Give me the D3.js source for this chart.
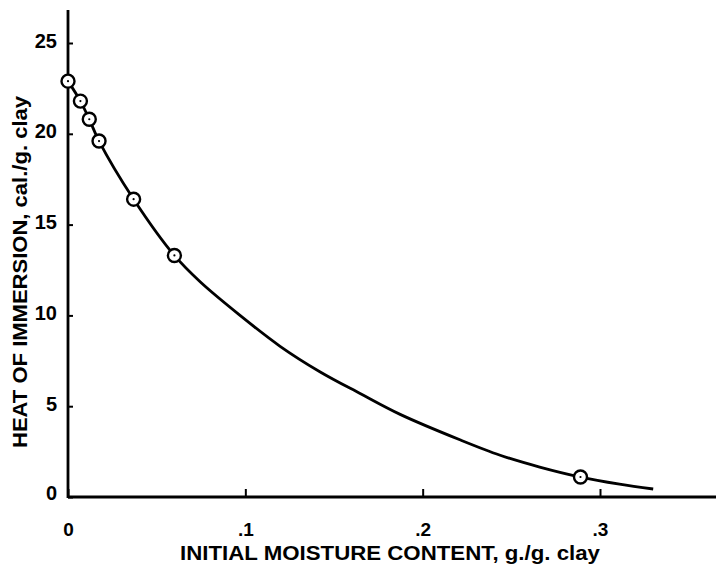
<!DOCTYPE html>
<html>
<head>
<meta charset="utf-8">
<script src="https://cdn.jsdelivr.net/npm/d3@7"></script>
<style>
  body { margin: 0; background: #fff; }
  svg { display: block; }
  text { font-family: "Liberation Sans", Arial, sans-serif; font-weight: bold; fill: #000; }
</style>
</head>
<body>
<svg width="716" height="570"></svg>
<script>
// measured points (moisture g/g clay, heat cal/g clay)
var pointX = [0, 0.007, 0.012, 0.0175, 0.037, 0.060, 0.289]
var pointY = [22.9, 21.8, 20.8, 19.6, 16.4, 13.3, 1.1]

// smooth curve
var curveX = [0, 0.007, 0.012, 0.0175, 0.037, 0.060, 0.0745, 0.097, 0.1196, 0.142, 0.1647, 0.1873, 0.221, 0.2437, 0.266, 0.289, 0.311, 0.330]
var curveY = [22.9, 21.8, 20.8, 19.6, 16.4, 13.3, 11.85, 10.0, 8.3, 6.9, 5.7, 4.55, 3.15, 2.3, 1.65, 1.10, 0.71, 0.44]

var xTicks = [0, 0.1, 0.2, 0.3]
var xTickLabels = ['0', '.1', '.2', '.3']
var yTicks = [0, 5, 10, 15, 20, 25]

var svg = d3.select('svg'),
    width = +svg.attr('width'),
    height = +svg.attr('height')

var x = d3.scaleLinear().domain([0, 0.3]).range([68, 600])
var y = d3.scaleLinear().domain([0, 25]).range([497, 43])

var g = svg.append('g')

// axis lines
g.append('line')
    .attr('x1', x(0)).attr('x2', width)
    .attr('y1', y(0)).attr('y2', y(0))
    .attr('stroke', '#000').attr('stroke-width', 2.8)
g.append('line')
    .attr('x1', x(0)).attr('x2', x(0))
    .attr('y1', y(0) + 1).attr('y2', 10)
    .attr('stroke', '#000').attr('stroke-width', 2.8)

// x axis, ticks pointing inward
var xAxis = d3.axisBottom(x)
    .tickValues(xTicks)
    .tickSizeInner(-8)
    .tickSizeOuter(0)
    .tickPadding(26)
    .tickFormat(function (d, i) { return xTickLabels[i] })
var gx = g.append('g')
    .attr('transform', 'translate(0,' + y(0) + ')')
    .call(xAxis)
gx.select('.domain').remove()
gx.selectAll('line').attr('stroke', '#000').attr('stroke-width', 2)
gx.selectAll('text').style('font-size', '19px').attr('font-family', null)

// y axis, ticks pointing inward
var yAxis = d3.axisLeft(y)
    .tickValues(yTicks)
    .tickSizeInner(-5)
    .tickSizeOuter(0)
    .tickPadding(11)
var gy = g.append('g')
    .attr('transform', 'translate(' + x(0) + ',0)')
    .call(yAxis)
gy.select('.domain').remove()
gy.selectAll('line').attr('stroke', '#000').attr('stroke-width', 2)
gy.selectAll('text').style('font-size', '20px').attr('font-family', null)
    .attr('dy', function (d) { return d === 0 ? '0.1em' : '0.2em' })

// curve
var line = d3.line()
    .x(function (d) { return x(d[0]) })
    .y(function (d) { return y(d[1]) })
    .curve(d3.curveCatmullRom.alpha(0.5))
g.append('path')
    .datum(d3.zip(curveX, curveY))
    .attr('d', line)
    .attr('fill', 'none')
    .attr('stroke', '#000')
    .attr('stroke-width', 2.8)

// markers
var pts = d3.zip(pointX, pointY)
g.selectAll('circle.pt')
    .data(pts)
    .enter()
    .append('circle')
    .attr('class', 'pt')
    .attr('cx', function (d) { return x(d[0]) })
    .attr('cy', function (d) { return y(d[1]) })
    .attr('r', 6.5)
    .attr('fill', '#fff')
    .attr('stroke', '#000')
    .attr('stroke-width', 2.4)
g.selectAll('circle.dot')
    .data(pts)
    .enter()
    .append('circle')
    .attr('class', 'dot')
    .attr('cx', function (d) { return x(d[0]) })
    .attr('cy', function (d) { return y(d[1]) })
    .attr('r', 1.1)
    .attr('fill', '#000')

// axis titles
svg.append('text')
    .attr('x', 390)
    .attr('y', 560)
    .attr('text-anchor', 'middle')
    .attr('textLength', 420)
    .attr('lengthAdjust', 'spacingAndGlyphs')
    .style('font-size', '20px')
    .text('INITIAL MOISTURE CONTENT, g./g. clay')

svg.append('text')
    .attr('transform', 'translate(27,272) rotate(-90)')
    .attr('text-anchor', 'middle')
    .attr('textLength', 352)
    .attr('lengthAdjust', 'spacingAndGlyphs')
    .style('font-size', '20px')
    .text('HEAT OF IMMERSION, cal./g. clay')
</script>
</body>
</html>
